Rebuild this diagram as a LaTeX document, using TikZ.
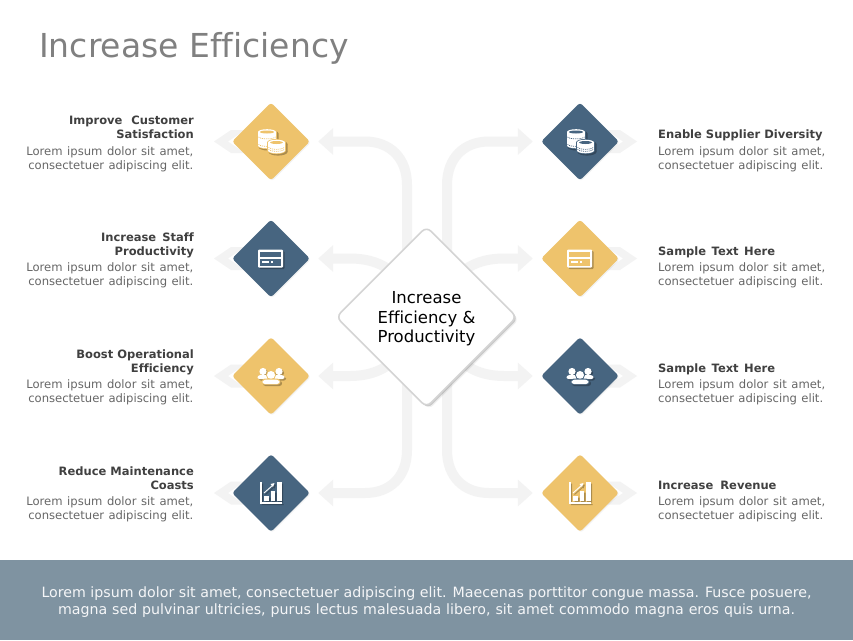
\documentclass[tikz,border=0pt]{standalone}
\usepackage{fontspec}
\setmainfont[Ligatures=NoCommon]{DejaVu Sans}
\usetikzlibrary{shapes.geometric,arrows.meta,shadows,backgrounds}
\definecolor{gold}{HTML}{EEC36C}
\definecolor{slate}{HTML}{476580}
\definecolor{band}{HTML}{7F93A1}
\definecolor{pale}{HTML}{F3F3F3}
\definecolor{ink}{HTML}{404040}
\definecolor{body}{HTML}{666666}
\tikzset{
 tile/.style={diamond,aspect=1,inner sep=0pt,minimum width=78pt,minimum height=78pt,rounded corners=3pt,
   general shadow={shadow xshift=1pt,shadow yshift=-1pt,fill=black,opacity=.05}},
 hubbox/.style={diamond,aspect=1,inner sep=0pt,minimum width=181pt,minimum height=181pt,rounded corners=6pt,
   fill=white,draw=black!17,line width=1.6pt,
   general shadow={shadow xshift=1.5pt,shadow yshift=-1.5pt,fill=black,opacity=.16},
   general shadow={shadow xshift=2.5pt,shadow yshift=-2.5pt,fill=black,opacity=.06}},
 conn/.style={draw=pale,line width=10pt,-{Triangle[width=26pt,length=15pt]},shorten >=8pt},
 chev/.style={fill=pale,draw=none},
 headtext/.style={font=\fontsize{11.5}{14}\selectfont\bfseries,text=ink,inner sep=0pt},
 bodytext/.style={font=\fontsize{11.6}{14}\selectfont,text=body,inner sep=0pt},
}
\newcommand{\coinstack}[6]{% cx, rx, top, bottom, main colour, detail colour
 \fill[#6] (#1-#2-1,#3) rectangle (#1+#2+1,#4);
 \fill[#6] (#1,#3) ellipse (#2+1 and 3.6);
 \fill[#6] (#1,#4) ellipse (#2+1 and 3.6);
 \fill[#5] (#1-#2,#3) rectangle (#1+#2,#4);
 \fill[#5] (#1,#3) ellipse (#2 and 2.8);
 \fill[#5] (#1,#4) ellipse (#2 and 2.8);
 \fill[#6] (#1,#3) ellipse (#2-2 and 1.5);
 \draw[#6,line width=.7pt,dash pattern=on 1pt off .9pt] (#1-#2+.5,#3+5) .. controls (#1-#2+3,#3+7.5) and (#1+#2-3,#3+7.5) .. (#1+#2-.5,#3+5);
 \draw[#6,line width=.7pt,dash pattern=on 1pt off .9pt] (#1-#2+.5,#4-1) .. controls (#1-#2+3,#4+1.5) and (#1+#2-3,#4+1.5) .. (#1+#2-.5,#4-1);
}
\newcommand{\icoCoins}[2]{%
 \coinstack{-4}{9}{-9.5}{4}{#1}{#2}
 \coinstack{5.5}{8.5}{1}{9}{#1}{#2}
}
\newcommand{\icoCard}[2]{%
 \fill[#1,rounded corners=1pt] (-13,-9) rectangle (12,9);
 \fill[#2] (-11,-7) rectangle (10,-2);
 \fill[#2] (-11,0) rectangle (10,7);
 \fill[#1] (-9,2.5) rectangle (-2,4);
 \fill[#1] (0,2.5) rectangle (2,4);
}
\newcommand{\icoPeople}[2]{%
 \fill[#1] (-8,-4.5) circle (3.6);
 \fill[#1] (8,-4.5) circle (3.6);
 \fill[#1,rounded corners=2.5pt] (-14,3) -- (-13,-1) -- (-3,-1) -- (-2,3) -- cycle;
 \fill[#1,rounded corners=2.5pt] (2,3) -- (3,-1) -- (13,-1) -- (14,3) -- cycle;
 \fill[#2] (0,-1) circle (5);
 \fill[#1] (0,-1) circle (4);
 \fill[#2,rounded corners=3pt] (-10,8.5) -- (-9,2.5) -- (9,2.5) -- (10,8.5) -- cycle;
 \fill[#1,rounded corners=3pt] (-9,8) -- (-8,3.5) -- (8,3.5) -- (9,8) -- cycle;
}
\newcommand{\icoChart}[2]{%
 \draw[#1,line width=1.2pt] (-10,-11) -- (-10,10) -- (11,10);
 \fill[#1] (-7,3) rectangle (-2,8);
 \fill[#1] (-0.5,-2) rectangle (4,8);
 \fill[#1] (5.5,-11) rectangle (10.5,8);
 \draw[#1,line width=.9pt] (-7,0) -- (2,-8);
 \fill[#1] (3.5,-10) -- (-0.5,-9) -- (2,-6) -- cycle;
}
\newcommand{\placeicon}[5]{%
 \begin{scope}[shift={(#2+1.5,#3+1.5)},transparency group,opacity=.28]#1{black}{black}\end{scope}
 \begin{scope}[shift={(#2,#3)}]#1{#4}{#5}\end{scope}}
\newcommand{\lefttext}[4]{%
 \node[bodytext,anchor=base east] (#1a) at (193.5,#2+4.5) {\makebox[167pt][s]{Lorem\hfil ipsum\hfil dolor\hfil sit\hfil amet,}};
 \node[bodytext,anchor=base east] (#1b) at (193.5,#2+18.9) {\makebox[165pt][s]{consectetuer\hfil adipiscing\hfil elit.}};
 \node[headtext,anchor=base east] (#1c) at (194,#2-12) {#4};
 \node[headtext,anchor=base east] (#1d) at (194,#2-26) {#3};
}
\newcommand{\righttext}[3]{%
 \node[bodytext,anchor=base west] (#1a) at (658,#2+4.5) {\makebox[167pt][s]{Lorem\hfil ipsum\hfil dolor\hfil sit\hfil amet,}};
 \node[bodytext,anchor=base west] (#1b) at (658,#2+18.9) {\makebox[165pt][s]{consectetuer\hfil adipiscing\hfil elit.}};
 \node[headtext,anchor=base west] (#1c) at (658,#2-12) {#3};
}
\begin{document}
\begin{tikzpicture}[x=1pt,y=-1pt]
\useasboundingbox (0,0) rectangle (853,640);
\node[anchor=base west,inner sep=0pt,text=black!50,font=\fontsize{33}{38}\selectfont] (title) at (39,57) {Increase Efficiency};
% tiles
\node[tile,fill=gold]  (a1) at (271,141.5) {};
\node[tile,fill=slate] (a2) at (271,258.5) {};
\node[tile,fill=gold]  (a3) at (271,376) {};
\node[tile,fill=slate] (a4) at (271,493) {};
\node[tile,fill=slate] (b1) at (580,141.5) {};
\node[tile,fill=gold]  (b2) at (580,258.5) {};
\node[tile,fill=slate] (b3) at (580,376) {};
\node[tile,fill=gold]  (b4) at (580,493) {};
% hub
\node[hubbox] (hub) at (426.5,317) {};
\node[align=center,inner sep=0pt,font=\fontsize{16.5}{19.6}\selectfont,text=black] (hubtext) at (426.5,319) {Increase\\Efficiency \&\\Productivity};
\begin{scope}[on background layer]
 \fill[white] (0,0) rectangle (853,640);
 \fill[band] (0,560) rectangle (853,640);
 \coordinate (lv) at (407,317);
 \coordinate (rv) at (447,317);
 \coordinate (l2) at (402,285);
 \coordinate (l3) at (402,349);
 \coordinate (r2) at (452,285);
 \coordinate (r3) at (452,349);
 \draw[conn] (lv) -- (407,185) .. controls (407,158) and (390,141.5) .. (365,141.5) -- (a1.east);
 \draw[conn] (l2) .. controls (392,266) and (372,258.5) .. (350,258.5) -- (a2.east);
 \draw[conn] (l3) .. controls (392,368) and (372,376) .. (350,376) -- (a3.east);
 \draw[conn] (lv) -- (407,450) .. controls (407,477) and (390,493) .. (365,493) -- (a4.east);
 \draw[conn] (rv) -- (447,185) .. controls (447,158) and (464,141.5) .. (489,141.5) -- (b1.west);
 \draw[conn] (r2) .. controls (462,266) and (482,258.5) .. (504,258.5) -- (b2.west);
 \draw[conn] (r3) .. controls (462,368) and (482,376) .. (504,376) -- (b3.west);
 \draw[conn] (rv) -- (447,450) .. controls (447,477) and (464,493) .. (489,493) -- (b4.west);
 \foreach \yy in {141.5,258.5,376,493} {
   \fill[chev] (231,\yy-11.5) -- (214,\yy) -- (231,\yy+11.5) -- (245,\yy+11.5) -- (228,\yy) -- (245,\yy-11.5) -- cycle;
   \fill[chev] (620,\yy-11.5) -- (637,\yy) -- (620,\yy+11.5) -- (606,\yy+11.5) -- (623,\yy) -- (606,\yy-11.5) -- cycle;
 }
\end{scope}
% icons
\placeicon{\icoCoins}{271}{141.5}{white}{gold}
\placeicon{\icoCard}{271}{258.5}{white}{slate}
\placeicon{\icoPeople}{271}{376}{white}{gold}
\placeicon{\icoChart}{271}{493}{white}{slate}
\placeicon{\icoCoins}{580}{141.5}{white}{slate}
\placeicon{\icoCard}{580}{258.5}{white}{gold}
\placeicon{\icoPeople}{580}{376}{white}{slate}
\placeicon{\icoChart}{580}{493}{white}{gold}
% text
\lefttext{t1}{150.5}{Improve\hspace{5pt} Customer}{Satisfaction}
\lefttext{t2}{267}{Increase\hspace{2pt} Staff}{Productivity}
\lefttext{t3}{384}{Boost Operational}{Efficiency}
\lefttext{t4}{501}{Reduce Maintenance}{Coasts}
\righttext{u1}{150.5}{Enable Supplier Diversity}
\righttext{u2}{267}{Sample\hspace{1.5pt} Text\hspace{1.5pt} Here}
\righttext{u3}{384}{Sample\hspace{1.5pt} Text\hspace{1.5pt} Here}
\righttext{u4}{501}{Increase\hspace{3pt} Revenue}
\node[anchor=center,inner sep=0pt,text=white!92!band,font=\fontsize{14.2}{17}\selectfont,align=center] (foot) at (426.5,602.5)
 {Lorem ipsum dolor sit amet, consectetuer adipiscing elit. Maecenas porttitor congue massa. Fusce posuere,\\
  \makebox[737pt][s]{magna sed pulvinar ultricies, purus lectus malesuada libero, sit amet commodo magna eros quis urna.}};
\end{tikzpicture}
\end{document}
